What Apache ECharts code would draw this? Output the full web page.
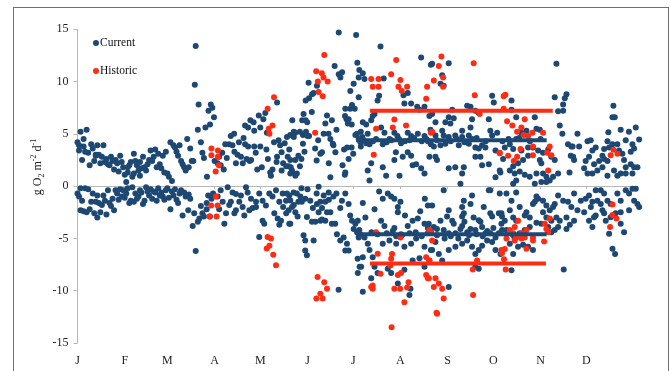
<!DOCTYPE html>
<html>
<head>
<meta charset="utf-8">
<style>
html,body{margin:0;padding:0;background:#fff;}
#frame{position:absolute;left:13px;top:7px;width:654px;height:420px;border:1.5px solid #707070;border-bottom:none;}
#chart{position:absolute;left:0;top:0;width:671px;height:371px;}
</style>
<script src="https://cdn.jsdelivr.net/npm/echarts@6/dist/echarts.min.js"></script>
</head>
<body>
<div id="frame"></div>
<div id="chart"></div>
<script>
// Month tick labels (day-of-year where each month starts)
const monthLabels = ['J','F','M','A','M','J','J','A','S','O','N','D'];
const monthStarts = [0,31,59,90,120,151,181,212,243,273,304,334];

// Current: [day of year, g O2 m-2 d-1]
const currentJanMar = [
[0,4.2],[1,3.4],[1,3.9],[2,5.2],[3,2.5],[4,3.8],[4,4.5],[5,3.3],[6,5.4],[7,3.2],[8,2.0],[9,4.0],[10,3.6],[11,2.4],[12,3.0],[12,2.9],[13,3.9],[14,3.0],[15,2.2],[16,2.8],[17,3.9],[18,2.3],[19,2.6],[20,2.1],[21,2.0],[22,2.8],[23,2.4],[24,1.6],[25,2.5],[26,2.2],[27,1.4],[28,2.9],[29,2.3],[30,1.8],
[31,1.1],[32,0.4],[33,1.8],[33,1.3],[34,2.0],[35,2.3],[36,0.9],[37,3.1],[37,1.2],[38,2.4],[39,2.0],[40,1.5],[41,2.3],[41,1.0],[42,1.7],[43,2.8],[44,1.8],[45,1.5],[46,2.1],[47,2.5],[48,3.4],[49,2.4],[50,2.8],[51,3.5],[52,1.8],[53,3.1],[54,2.1],[55,1.7],[56,2.9],[57,1.3],[58,3.3],
[59,1.2],[60,0.9],[61,4.2],[62,0.5],[63,3.9],[64,3.7],[65,3.3],[66,2.9],[67,3.9],[68,2.4],[69,2.1],[70,1.8],[71,1.5],[72,4.5],[73,1.8],[74,3.6],[75,2.4],[76,2.4],[77.6,13.4],[77,9.7],[79,5.4],[79.5,7.8],[81,4.2],[82,3.2],[83,2.7],[85,0.9],[84,5.6],[86,7.2],[87,5.9],[87.5,7.8],[88.5,7.5],[89.6,6.6],[90,2.4],
[0,-0.7],[1,-1.0],[2,-2.3],[2,-0.2],[3,-1.4],[4,-2.4],[5,-0.2],[6,-2.5],[7,-0.3],[8,-2.2],[9,-1.5],[10,-0.7],[11,-2.6],[12,-1.5],[13,-3.0],[13,-0.9],[14,-1.6],[15,-2.5],[16,-1.8],[17,-0.9],[18,-1.4],[19,-2.7],[20,-0.4],[21,-1.6],[22,-1.9],[23,-1.2],[24,-2.3],[25,-0.4],[26,-0.7],[27,-1.3],[28,-0.3],[29,-1.0],[30,-0.4],
[31,-1.1],[32,-0.7],[33,-0.2],[34,-1.6],[35,-1.4],[36,-0.1],[37,-1.5],[38,-0.7],[39,-1.2],[40,-1.0],[41,-0.4],[42,-0.6],[43,-1.7],[44,-1.4],[45,-0.1],[46,-0.5],[47,-0.9],[48,-0.3],[49,-1.2],[50,-0.5],[51,-0.6],[52,-1.4],[53,-0.2],[54,-0.9],[55,-0.6],[56,-1.0],[57,-1.3],[58,-0.4],
[59,-0.2],[60,-1.1],[61,-2.2],[62,-0.5],[63,-0.9],[64,-0.3],[65,-1.3],[66,-1.6],[67,-0.7],[68,-0.4],[69,-2.8],[70,-0.6],[71,-1.0],[72.7,-2.3],[73,-0.8],[74,-1.2],[75.6,-3.8],[76.6,-2.6],[77.6,-6.2],[79,-3.4],[80,-3.1],[81,-1.9],[82,-2.6],[83,-2.9],[84.8,-1.6],[84.8,-2.2],[85.8,-0.9],[87,-2.9],[88,-1.2],[89,-0.7]
];
const currentAprJun = [
[92,2.2],[93,2.8],[94,2.0],[95,3.2],[96,1.6],[97,4.0],[98,2.7],[99.5,4.0],[100.6,4.8],[101.7,3.9],[102.8,5.0],[103,3.3],[104,2.2],[105,3.0],[106,4.2],[107.3,2.8],[108.5,2.2],[109,4.6],[110,4.0],[110,5.8],[111,2.6],[112,5.6],[112,3.8],[113.5,6.3],[113,2.4],[114,2.5],[115.6,6.1],[116,5.3],[116,3.8],[117,3.2],[118,1.6],[119,6.75],
[120,5.6],[120,3.8],[121,1.8],[122,6.4],[123.3,7.0],[124.3,5.1],[124,3.5],[125,2.6],[126.5,1.3],[127,1.0],[128,1.6],[129,4.2],[130.7,2.3],[131,8.0],[131,2.8],[132,4.4],[133,3.9],[134,3.25],[134,1.5],[135,2.2],[136,4.1],[137,1.9],[138,2.8],[139,3.5],[140,1.8],[141,6.3],[141,1.3],[142,4.7],[143,5.1],[143,1.0],[144,1.2],[145,2.9],[146,1.9],[147,2.6],[148,4.9],[149,3.3],[150,5.2],
[137.5,4.7],[139.7,4.9],[142,5.2],[146,5.2],[147.5,6.3],[148.4,6.9],[148,4.05],[149.8,6.3],[149.8,8.2],[150.8,6.1],[139.7,2.5],[138.6,1.9],[140.8,1.5],[139.7,1.2],[143,2.5],
[151,4.8],[151.7,9.9],[152,8.4],[152,4.8],[153.8,7.1],[154,8.8],[155,8.9],[156,3.6],[157.2,9.6],[157,2.45],[158,4.4],[159.4,3.1],[160.5,3.25],[161.6,5.0],[162.7,6.0],[163.8,6.75],[164.8,5.0],[165,2.2],[166,4.5],[166,0.86],[167,6.3],[168,3.9],[168.8,11.5],[169.3,3.25],[170,5.4],[171.5,10.7],[171.5,14.7],[172.6,10.4],[173.7,10.9],[174,2.0],[175,3.5],[175.8,7.4],[175.8,1.3],[177,3.7],[178,6.4],[178,2.6],[179,7.4],[179.1,9.1],[180,5.9],[180.2,7.75],[181.3,9.8],[181,3.1],[182,7.4],[182.4,4.9],[182.9,14.45],[183.5,5.0],[183.7,11.8],[184.6,8.5],[184.6,4.5],[185,11.1],[184.6,10.4],[185.7,4.2],
[176.6,6.4],[175.6,6.7],[167.6,4.05],[175.5,1.1],[179.9,3.7],[177.5,6.0],
[92,-1.0],[93,-2.2],[94,-0.4],[95.3,-1.5],[96.4,-3.6],[97.5,-2.6],[98.6,-0.1],[99.6,-1.8],[100.7,-1.5],[101.8,-0.6],[103,-2.6],[104,-0.75],[104,-2.3],[106.2,-1.5],[107.3,-0.9],[108.4,-2.0],[109.5,-2.8],[110.6,-0.1],[111.7,-0.6],[112.8,-2.3],[113.9,-1.2],[115,-2.1],[117.2,-1.5],[117.2,-2.0],[119.3,-0.7],[119.3,-4.87],[121.5,-1.4],[121.5,-3.3],[122.6,-3.6],[123.7,-1.85],[125.9,-0.7],[128,-1.0],[129.2,-2.6],[130.3,-0.4],[131.4,-3.1],[132.5,-1.5],[132.5,-3.7],[133.6,-3.3],[134.7,-0.7],[136.9,-1.4],[139,-0.9],[139,-3.6],
[137.5,-0.7],[139.7,-1.37],[141.9,-0.6],[144,-0.7],[146.3,-1.0],[145,-1.5],[140.8,-2.0],[138.6,-2.3],[143,-2.5],[147.3,-1.5],[149.5,-1.2],[152.8,-1.4],[157.2,-1.7],[159.4,-1.5],[158.3,-0.05],[157,-0.7],[161.6,-0.9],[164.9,-0.6],[162.7,-1.5],[160.5,-2.1],[163.8,-2.5],[166,-2.5],[159.4,-3.3],[162.7,-3.3],[158.3,-2.5],[150.6,-2.96],[153.9,-3.4],[156.1,-3.4],[160.5,-3.2],[139.7,-3.6],[148.4,-4.7],[149.5,-5.2],[155,-5.2],[149.5,-6.15],[150.6,-6.6],[169.2,-3.6],[170.3,-4.6],[172.5,-5.2],[174.7,-4.9],[176.9,-5.5],[178,-6.15],[175.8,-6.15],[179,-2.8],[180.2,-3.3],[182.4,-3.6],[181.3,-4.1],[183.5,-4.4],[185.6,-4.6],[184.6,-4.9],[183.9,-6.94],[185.2,-7.7],[171.4,-9.9],[168,-1.0],[170,-0.7],[173.6,-1.4],[175.8,-0.7],[172.5,-2.1],[178,-1.7],
[135,-2.0],[137,-2.6],[142,-1.8],[144.5,-2.9],[151,-0.3],[154.5,-2.1],[165,-1.3],[167,-3.6],[147,-0.2]
];
const currentJulSep = [
[186,5.2],[186,3.8],[187.3,10.8],[187.3,6.1],[187,4.7],[188.4,10.25],[189.5,5.9],[189.5,4.1],[190.5,5.0],[190.5,1.5],[191.7,4.0],[191.7,0.54],[192.8,6.3],[192.8,2.2],[193.8,6.7],[195,6.9],[197,8.2],[198,8.65],[198.9,13.35],[199.3,5.6],[200.4,4.0],[200.4,1.8],[201,10.3],[201.5,5.1],[202.6,1.0],[204.8,4.5],[208,5.1],[208,2.5],[209,3.25],[210,4.8],[211.4,1.0],[212.4,4.1],[213.5,2.8],[214,8.7],[214.6,7.9],[216.8,8.9],[216.8,5.1],[216.8,3.25],[219,7.9],[219,4.8],[219,2.9],[220,2.0],[222.3,2.1],[223,7.6],[223.4,5.0],[224.5,7.3],[225.6,12.3],[225.6,1.7],[227.8,7.6],[227.8,4.8],[227.8,1.2],[230,4.3],[231,6.7],[231,2.8],[232,11.6],[232,4.0],
[188,4.4],[194,4.3],[196,4.5],[203,4.2],[206,4.4],[211,4.5],[215,4.3],[218,4.4],[221,4.6],[226,4.3],[229,4.5],
[232.8,11.7],[243.7,11.75],[239.4,10.6],[238.3,9.8],[240.4,9.6],[272.2,8.65],[273.3,8.0],[255.8,7.7],[258,7.6],[261.2,7.2],[263.4,7.0],[246,7.3],[243.7,6.6],[247,6.5],[241.5,6.1],[244.8,6.0],[259,6.4],[258,5.6],[252.5,5.3],[270,6.4],[271,5.3],[272.2,4.85],[275.5,5.1],[232.8,6.9],[235,6.1],[231.7,5.4],[235,4.85],[239.4,5.3],[240.4,4.85],[243.7,4.7],[248,4.85],[252.5,4.7],[250.3,3.9],[233.9,3.8],[238.3,3.9],[241.5,4.05],[256.9,4.05],[261.2,3.7],[263.4,3.6],[265.6,3.9],[267.8,3.7],[274.4,3.4],[261.2,2.8],[264.5,2.8],[265.6,2.0],[270,2.1],[256.9,4.85],[259,4.5],[235,2.8],[236,2.5],[243.7,1.7],[248,1.8],[253.6,1.8],[252.5,1.2],[251.4,0.22],[274.4,0.86],[277.6,1.3],
[236,4.4],[245,4.3],[249,4.5],[254,4.2],[262,4.6],[268,4.3],
[187.3,-1.6],[200.4,-1.2],[203.7,-0.7],[205.9,-1.0],[208,-1.2],[210.3,-2.0],[210.3,-2.5],[230,-1.85],[184,-3.3],[185,-4.2],[188.4,-4.9],[190.6,-5.5],[191.7,-6.1],[193.8,-6.8],[195,-7.7],[197,-8.3],[192.8,-8.8],[187.3,-10.1],[217.9,-10.4],[218.6,-9.8],[210.3,-9.3],[203.7,-7.9],[205.9,-8.3],[214.6,-8.0],[220,-7.1],[224.5,-6.9],[227.8,-7.7],[231,-7.1],[199.3,-3.3],[201.5,-3.8],[208,-4.0],[209.2,-4.8],[212.4,-4.6],[216.8,-3.8],[223.4,-3.1],[227.8,-3.6],[230,-4.0],[232,-4.3],[200.4,-5.5],[204.8,-5.2],[209.2,-5.5],[214.6,-5.8],[219,-5.5],[222.3,-5.0],[227.8,-5.8],[232,-6.1],[187.3,-6.8],[186.2,-7.7],[184,-8.3],
[193,-4.4],[197,-4.6],[203,-4.5],[207,-4.3],[213,-4.7],[218,-4.5],[222,-4.4],[226,-4.8],[230,-4.5],[189,-3.0],[195,-2.2],[198,-0.5],[212,-1.5],[215,-2.8],[220,-3.3],[225,-2.4],[228,-1.2],
[240.4,-0.4],[270,-0.4],[271,-0.4],[232.8,-1.85],[259,-0.9],[258,-1.7],[253.6,-1.4],[252.5,-2.0],[243.7,-2.3],[242.6,-2.9],[238.3,-3.3],[246,-3.3],[252.5,-2.9],[253.6,-2.6],[266.7,-2.0],[271,-2.6],[272.2,-2.9],[263.4,-3.25],[264.5,-3.4],[276.6,-2.6],[278.7,-2.9],[230.6,-3.6],[233.9,-3.9],[236,-4.1],[240.4,-4.2],[243.7,-4.5],[248.1,-4.5],[251.4,-4.1],[252.5,-3.8],[255.8,-4.4],[258,-4.1],[261.2,-4.2],[265.6,-3.9],[267.8,-4.5],[271,-4.5],[274.4,-4.9],[276.6,-4.5],[278.7,-4.2],[235,-5.35],[232.8,-6.1],[237.2,-6.5],[239.4,-7.1],[243.7,-6.1],[248.1,-5.8],[252.5,-5.5],[255.8,-5.2],[259,-5.8],[261.2,-6.5],[263.4,-6.1],[265.6,-5.7],[268.9,-5.2],[272.2,-5.35],[274.4,-6.1],[277.7,-6.5],[261.2,-7.7],[263.4,-7.9],[243.7,-9.65],
[245,-4.8],[250,-5.0],[257,-4.7],[262,-4.6],[266,-4.8],[269,-4.3],[273,-4.0],[236,-4.7],[241,-5.0],[247,-3.6],[254,-3.4],[260,-3.0]
];
const currentOctDec = [
[314.4,11.7],[313.3,8.5],[319.9,8.4],[321,8.8],[318.8,7.8],[315.5,7.16],[318.8,7.2],[316.6,5.8],[318.3,5.0],[322,4.0],[324.2,3.8],[325.4,2.8],[323,1.3],[284.9,8.2],[284.9,7.3],[288,6.6],[300.2,6.6],[301.3,5.5],[303.5,5.4],[291.4,5.1],[294.7,5.3],[288,4.5],[283.8,4.0],[280.5,3.7],[286,3.55],[291.4,3.4],[295.8,3.7],[299,3.7],[302.4,3.4],[305.6,3.2],[309,3.5],[311,2.8],[313.3,2.5],[303.5,2.5],[304.5,2.2],[295.8,2.9],[292.5,2.5],[289.2,2.2],[286,1.9],[283.8,1.5],[287,1.2],[290.3,1.4],[293.6,1.1],[296.9,0.9],[301.3,1.2],[305.6,1.2],[307.8,0.9],[310,0.54],[300.2,0.22],[286,0.22],[288,0.54],[304.5,0.4],[307.8,0.4],[312.2,0.9],[315.5,1.2],[277.2,1.5],[279.4,2.6],
[279,4.3],[283,4.5],[290,4.6],[297,4.3],[304,4.5],
[351.8,7.7],[351.2,6.6],[352.7,6.6],[356.6,5.4],[362,5.2],[366.5,5.6],[368.7,4.45],[364.3,4.0],[365.4,3.6],[363.2,3.3],[359.9,4.4],[348.5,5.16],[328.2,5.0],[334.8,4.3],[336.9,4.4],[340.2,3.7],[338,3.4],[345.7,3.55],[347.9,4.3],[349,3.7],[351.2,4.0],[354.4,4.0],[355.5,3.4],[357.7,3.1],[358.8,2.5],[359.9,1.8],[363.2,2.1],[365.4,1.8],[367.6,1.8],[333.6,2.4],[335.8,2.8],[339.1,2.1],[342.4,2.4],[344.6,2.9],[345.7,2.6],[347.9,2.4],[332.6,1.7],[334.8,1.2],[338,1.2],[341.3,1.5],[344.6,1.8],[347.9,1.0],[352.2,1.5],[354.4,1.0],[356.6,1.2],[359.9,1.2],[364.3,1.2],[323.8,2.9],[326,2.5],[325,3.8],[329.3,3.8],
[277.2,-0.7],[281.6,-0.7],[284.9,-1.4],[288,-0.6],[283.8,-2.3],[278.3,-2.6],[280.5,-3.3],[286,-3.0],[288,-3.3],[290.3,-2.0],[293.6,-2.8],[294.7,-2.5],[296.9,-3.0],[299,-1.7],[302.4,-1.2],[301.3,-1.0],[300.2,-1.5],[305.6,-1.4],[307.8,-1.85],[305.6,-2.5],[307.8,-3.0],[310,-2.3],[312.2,-2.0],[311.1,-3.3],[313.3,-1.7],[315.5,-0.9],[318.8,-1.4],[322,-1.5],[324.2,-2.0],[321,-3.0],[323.2,-3.7],[316.6,-3.3],[314.4,-3.0],[301.3,-3.5],[296.9,-3.9],[293.6,-4.2],[290.3,-4.5],[286,-4.7],[281.6,-4.2],[278.3,-3.6],[304.5,-3.6],[309,-3.9],[311.1,-4.4],[313.3,-4.2],[315.5,-3.9],[321,-4.1],[287,-5.0],[283.8,-5.5],[289.2,-5.8],[292.5,-5.6],[295.8,-5.8],[299,-6.1],[286,-6.5],[284.9,-8.05],[319.2,-7.98],
[326,-0.7],[330.4,-1.4],[333.6,-1.2],[335.8,-0.9],[338,-1.5],[340.2,-0.4],[343.5,-0.4],[345.7,-0.7],[341.3,-1.4],[343.5,-1.7],[347.9,-1.4],[350,-1.7],[354.4,-0.7],[356.6,-1.4],[359.9,-0.4],[362.1,-0.7],[364.3,-0.25],[366.5,-0.25],[365.4,-1.4],[367.6,-1.7],[368.7,-2.0],[328.2,-2.3],[332.6,-2.5],[337,-2.0],[340.2,-2.8],[344.6,-2.3],[345.7,-2.6],[346.8,-3.3],[350,-2.97],[353.3,-2.6],[356.6,-2.5],[362.1,-2.3],[326,-3.3],[335.8,-3.3],[339.1,-2.97],[338,-3.9],[349,-4.55],[356.6,-3.6],[358.8,-4.4],[351.2,-5.98],[352.9,-6.5]
];

// Historic: [day of year, g O2 m-2 d-1]
const historicPos = [
[87.9,3.6],[87.9,2.96],[92.2,3.4],[92.2,2.8],[90.7,1.4],[92.8,2.0],
[129,8.5],[124.8,7.4],[128,5.8],[125.5,5.5],[126,5.0],
[162,12.55],[156.7,11.0],[160.4,10.8],[161.5,10.4],[157.8,10.0],[164.2,10.0],[158.3,9.0],[161,8.6],[156,5.1],
[209.2,12.07],[205.9,10.7],[192.8,10.25],[197.6,10.25],[193.8,9.5],[197.6,9.5],[212,10.15],[210.7,9.5],[212.9,9.1],[216.4,9.5],[229.5,9.5],[228.9,8.35],[208,6.37],[207,5.6],[196,5.5],[215.7,5.8],[232,5.1],[194.5,3.0],
[238.9,12.4],[237.2,11.5],[233.9,10.1],[240,10.4],[240,9.5],[260.1,11.75],[260.8,8.7],[232.8,5.2],[277.2,3.15],[279.8,8.6],[264,6.9],
[280.9,8.75],[279.8,7.4],[282,6.2],[285.5,5.8],[288.6,5.2],[291.4,5.6],[293.6,6.4],[293,4.9],[295.8,4.8],[298.6,5.1],[305.6,5.1],[277.2,3.2],[282.7,2.9],[286.4,2.4],[288.6,2.8],[299,3.8],[299,2.95],[310,3.8],[308.3,3.2],[311.1,2.95],[309,1.5],[290.8,3.55],
[351.8,3.48],[350,2.96],[354.5,3.1]
];
const historicNeg = [
[86.7,-2.9],[87.8,-1.84],[90.9,-0.98],[92,-1.84],[91.3,-2.9],
[124.8,-4.87],[127,-5.0],[124.2,-5.97],[126,-5.7],[128.5,-6.55],[130.3,-7.57],
[157.6,-8.7],[162,-9.2],[163.8,-9.8],[159.4,-10.3],[156.8,-10.75],[160.9,-10.75],
[196,-4.4],[197.1,-6.46],[198.9,-8.37],[193.8,-9.5],[193.8,-9.8],[192.8,-9.65],[205.9,-6.94],[206.5,-6.5],[205.4,-7.6],[210.3,-8.5],[212.4,-8.3],[208,-9.8],[211.8,-9.8],[216.4,-9.7],[217.3,-9.2],[214.6,-11.1],[228.9,-8.5],[230,-8.8],[228.9,-6.8],[231,-4.2],[231,-7.1],[206.2,-13.5],[235.7,-12.1],[259.7,-10.4],
[231.7,-4.4],[232.8,-5.2],[262.3,-7.1],[259.5,-7.98],[235,-8.8],[237.2,-9.3],[233.9,-9.65],[239.4,-9.8],[240.4,-10.75],[236.1,-12.2],[278.7,-6.4],[230.6,-8.8],[212,-4.9],
[289.2,-3.3],[287,-3.9],[283.8,-4.2],[286,-4.5],[288.1,-4.9],[291.4,-4.5],[293.6,-4.9],[294.7,-4.2],[299,-4.9],[299,-5.2],[310,-3.1],[306.7,-3.6],[307.8,-4.1],[309,-4.4],[306.3,-5.3],[294.7,-5.98],[291.4,-5.0],[287,-5.2],[281.6,-5.0],[280.5,-6.0],[278.3,-6.1],[280,-7.0],[281.1,-7.98],
[351.2,-1.75],[351.2,-2.75],[353.8,-3.1],[349.6,-3.9]
];

// Mean lines: [day, value] end points
const currentMeanPos = [[183,4.4],[308,4.4]];
const currentMeanNeg = [[183,-4.6],[308,-4.6]];
const historicMeanPos = [[192,7.2],[312,7.2]];
const historicMeanNeg = [[192,-7.4],[307.5,-7.4]];

const BLUE = '#1d4873';
const RED = '#ff2b12';
const AXIS = '#b8b8b8';
const SERIF = '"Liberation Serif","Times New Roman",serif';

const chart = echarts.init(document.getElementById('chart'), null, {renderer:'canvas'});

function meanLine(data, color){
  return {type:'line', data:data, symbol:'none', silent:true, z:5,
    lineStyle:{color:color, width:4}, itemStyle:{color:color}, animation:false};
}

chart.setOption({
  animation:false,
  backgroundColor:'transparent',
  grid:{left:77.5, right:37.5, top:29.3, bottom:28, outerBoundsMode:'none'},
  legend:{
    data:['Current','Historic'], orient:'vertical', left:93, top:37, padding:0,
    itemWidth:6, itemHeight:6, itemGap:16, icon:'circle',
    textStyle:{fontFamily:SERIF, fontSize:11.5, color:'#111', padding:[0,0,0,-4]}
  },
  xAxis:[
    {type:'value', min:0, max:365, position:'bottom',
      axisLine:{show:false, onZero:false}, axisTick:{show:false}, splitLine:{show:false},
      axisLabel:{customValues:monthStarts, formatter:(v)=>monthLabels[monthStarts.indexOf(v)],
        fontFamily:SERIF, fontSize:12, color:'#222', margin:12}},
    {type:'value', min:0, max:365, position:'bottom',
      axisLine:{show:true, onZero:true, lineStyle:{color:AXIS, width:1}},
      axisTick:{show:true, customValues:monthStarts, length:3, lineStyle:{color:AXIS}},
      axisLabel:{show:false}, splitLine:{show:false}}
  ],
  yAxis:{type:'value', min:-15, max:15, interval:5,
    axisLine:{show:true, onZero:false, lineStyle:{color:AXIS, width:1}},
    axisTick:{show:true, length:4, lineStyle:{color:AXIS}},
    splitLine:{show:false},
    axisLabel:{fontFamily:SERIF, fontSize:12, color:'#222', margin:9}},
  graphic:[{
    type:'text', x:37.5, y:167, rotation:Math.PI/2, silent:true,
    style:{
      text:'{t|g O}{sub|2}{t| m}{sup|-2}{t| d}{sup|-1}',
      align:'center', verticalAlign:'middle',
      rich:{
        t:{fontFamily:SERIF, fontSize:12, fill:'#222', lineHeight:16},
        sub:{fontFamily:SERIF, fontSize:8, fill:'#222', lineHeight:9, verticalAlign:'bottom'},
        sup:{fontFamily:SERIF, fontSize:8, fill:'#222', lineHeight:9, verticalAlign:'top'}
      }
    }
  }],
  series:[
    {name:'Current', type:'scatter', xAxisIndex:0, clip:false, symbolSize:6, z:2,
      itemStyle:{color:BLUE, opacity:1},
      data:[].concat(currentJanMar, currentAprJun, currentJulSep, currentOctDec)},
    {name:'Historic', type:'scatter', xAxisIndex:0, clip:false, symbolSize:6, z:3,
      itemStyle:{color:RED, opacity:1},
      data:[].concat(historicPos, historicNeg)},
    meanLine(currentMeanPos, BLUE),
    meanLine(currentMeanNeg, BLUE),
    meanLine(historicMeanPos, RED),
    meanLine(historicMeanNeg, RED)
  ]
});
</script>
</body>
</html>
